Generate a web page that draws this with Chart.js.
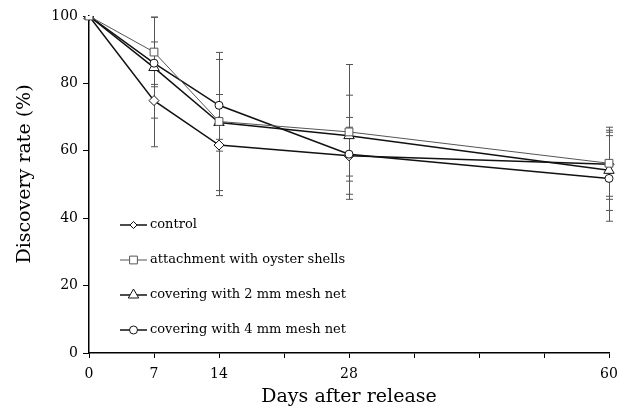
<!DOCTYPE html>
<html>
<head>
<meta charset="utf-8">
<script src="https://cdn.jsdelivr.net/npm/chart.js@4.4.1/dist/chart.umd.min.js"></script>
<style>
  html, body { margin: 0; padding: 0; background: #fff; }
  canvas { display: block; }
</style>
</head>
<body>
<canvas id="grafica" width="620" height="408"></canvas>
<script>
// dias (etiquetas del eje x, huecos = marcas sin numero)
const tickLabels = ['0', '7', '14', '', '28', '', '', '', '60'];

// tasa de descubrimiento (%)
const control = [100, 74.9, 61.7, null, 58.5, null, null, null, 56.0];
const oyster  = [100, 89.3, 68.7, null, 65.6, null, null, null, 56.3];
const mesh2   = [100, 84.7, 68.4, null, 64.5, null, null, null, 54.2];
const mesh4   = [100, 86.0, 73.5, null, 59.0, null, null, null, 51.8];

// barras de error (+/-)
const controlErr = [null, 13.7, 15.0, null, 11.4, null, null, null, 9.5];
const oysterErr  = [null, 10.3, 20.5, null, 20.0, null, null, null, 10.7];
const mesh2Err   = [null, 15.0, 5.0,  null, 12.0, null, null, null, 11.9];
const mesh4Err   = [null, 6.3,  13.6, null, 8.0,  null, null, null, 12.7];

const seriesNames = [
    'control',
    'attachment with oyster shells',
    'covering with 2 mm mesh net',
    'covering with 4 mm mesh net'
];

const yTitle = 'Discovery rate (%)';
const xTitle = 'Days after release';

const serif = "'DejaVu Serif', 'Liberation Serif', serif";

function serie(label, data, err, style, radius, color, width, orden) {
    return {
        label: label,
        data: data,
        err: err,
        order: orden,
        borderColor: color,
        borderWidth: width,
        pointStyle: style,
        pointRadius: radius,
        pointBackgroundColor: '#fff',
        pointBorderColor: color,
        pointBorderWidth: 1,
        spanGaps: true,
        tension: 0
    };
}

// barras de error debajo de las lineas
const barrasError = {
    id: 'barrasError',
    beforeDatasetsDraw(chart) {
        const ctx = chart.ctx;
        const x = chart.scales.x, y = chart.scales.y;
        ctx.save();
        ctx.strokeStyle = '#555';
        ctx.lineWidth = 1;
        chart.data.datasets.forEach(ds => {
            ds.data.forEach((v, i) => {
                const e = ds.err[i];
                if (v === null || e === null) return;
                const px = Math.round(x.getPixelForValue(i)) + 0.5;
                const top = y.getPixelForValue(v + e);
                const bot = y.getPixelForValue(v - e);
                ctx.beginPath();
                ctx.moveTo(px, top); ctx.lineTo(px, bot);
                ctx.moveTo(px - 3.5, top); ctx.lineTo(px + 3.5, top);
                ctx.moveTo(px - 3.5, bot); ctx.lineTo(px + 3.5, bot);
                ctx.stroke();
            });
        });
        ctx.restore();
    }
};

function marcador(ctx, style, r, x, y) {
    ctx.beginPath();
    if (style === 'circle') {
        ctx.arc(x, y, r, 0, Math.PI * 2);
    } else if (style === 'rect') {
        const s = r * Math.SQRT1_2;
        ctx.rect(x - s, y - s, 2 * s, 2 * s);
    } else if (style === 'rectRot') {
        const s = r * Math.SQRT1_2;
        ctx.moveTo(x, y - s); ctx.lineTo(x + s, y); ctx.lineTo(x, y + s); ctx.lineTo(x - s, y);
        ctx.closePath();
    } else if (style === 'triangle') {
        const w = r * Math.sqrt(3) / 2;
        ctx.moveTo(x, y - r); ctx.lineTo(x + w, y + r / 2); ctx.lineTo(x - w, y + r / 2);
        ctx.closePath();
    }
    ctx.fillStyle = '#fff';
    ctx.fill();
    ctx.stroke();
}

// leyenda dentro del area del grafico + titulo del eje y
const leyenda = {
    id: 'leyenda',
    afterDraw(chart) {
        const ctx = chart.ctx;
        ctx.save();
        seriesNames.forEach((nombre, i) => {
            const ds = chart.data.datasets[i];
            const yy = 225 + i * 35;
            ctx.strokeStyle = ds.borderColor;
            ctx.lineWidth = ds.borderWidth;
            ctx.beginPath();
            ctx.moveTo(120, yy); ctx.lineTo(147, yy);
            ctx.stroke();
            ctx.lineWidth = 1;
            marcador(ctx, ds.pointStyle, ds.pointRadius, 133.5, yy);
            ctx.fillStyle = '#000';
            ctx.font = '13px ' + serif;
            ctx.textBaseline = 'middle';
            ctx.fillText(nombre, 150, yy);
        });
        // titulo eje y
        ctx.translate(25, 174);
        ctx.rotate(-Math.PI / 2);
        ctx.font = '19px ' + serif;
        ctx.fillStyle = '#000';
        ctx.textAlign = 'center';
        ctx.textBaseline = 'middle';
        ctx.fillText(yTitle, 0, 0);
        ctx.restore();
    }
};

const ctx = document.getElementById('grafica');
const grafica = new Chart(ctx, {
    type: 'line',
    data: {
        labels: tickLabels,
        datasets: [
            serie(seriesNames[0], control, controlErr, 'rectRot', 5, '#111', 1.5, 3),
            serie(seriesNames[1], oyster, oysterErr, 'rect', 5.5, '#555', 1, 0),
            serie(seriesNames[2], mesh2, mesh2Err, 'triangle', 6, '#111', 1.5, 2),
            serie(seriesNames[3], mesh4, mesh4Err, 'circle', 4, '#111', 1.5, 1)
        ]
    },
    options: {
        responsive: false,
        animation: false,
        devicePixelRatio: 1,
        layout: { padding: { top: 16, right: 11, left: 0, bottom: 0 } },
        plugins: {
            legend: { display: false },
            tooltip: { enabled: false }
        },
        scales: {
            x: {
                type: 'category',
                offset: false,
                grid: { drawOnChartArea: false, drawTicks: true, tickLength: 5, color: '#000' },
                border: { color: '#000', width: 1.5 },
                ticks: { color: '#000', autoSkip: false, maxRotation: 0, padding: 8, font: { family: serif, size: 14 } },
                title: { display: true, text: xTitle, color: '#000', padding: 0, font: { family: serif, size: 19 } },
                afterFit: s => { s.height = 55; s.paddingLeft = 0; s.paddingRight = 0; }
            },
            y: {
                min: 0,
                max: 100,
                grid: { drawOnChartArea: false, drawTicks: true, tickLength: 6, color: '#000' },
                border: { color: '#000', width: 1.5 },
                ticks: { stepSize: 20, color: '#000', padding: 5, font: { family: serif, size: 14 } },
                afterFit: s => { s.width = 89; }
            }
        }
    },
    plugins: [barrasError, leyenda]
});
</script>
</body>
</html>
